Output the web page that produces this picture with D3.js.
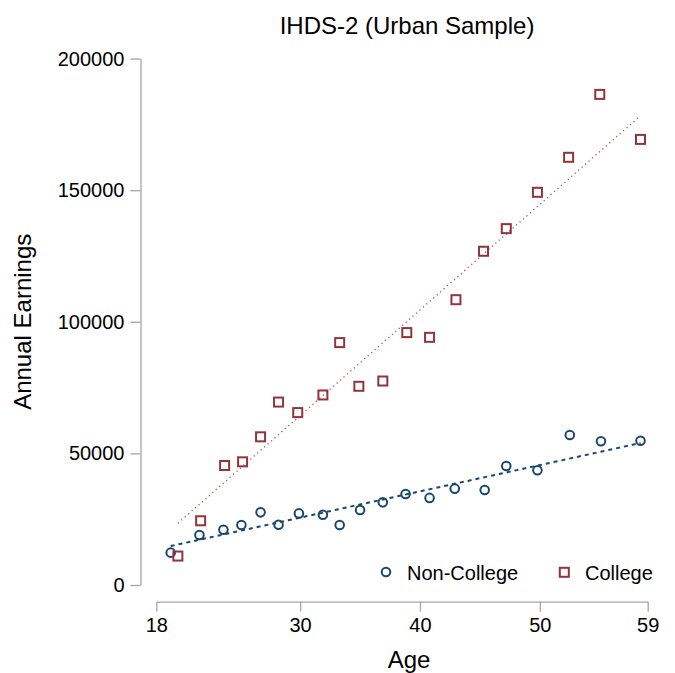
<!DOCTYPE html>
<html>
<head>
<meta charset="utf-8">
<script src="https://cdn.jsdelivr.net/npm/d3@7"></script>
<style>
  html, body { margin: 0; padding: 0; background: #fff; }
  svg { display: block; font-family: "Liberation Sans", Arial, Helvetica, sans-serif; }
</style>
</head>
<body>
<svg id="chart" width="675" height="673"></svg>
<script>
// Binned means of annual earnings by age, IHDS-2 urban sample
const nonCollegeAge = [19.2, 21.6, 23.6, 25.1, 26.7, 28.2, 29.9, 31.9, 33.3, 35.0,
                       36.9, 38.8, 40.8, 42.9, 45.4, 47.2, 49.8, 52.5, 55.1, 58.4];
const nonCollegeEarn = [12300, 19000, 21000, 22800, 27600, 22900, 27200, 26700, 22800, 28500,
                        31400, 34600, 33100, 36600, 36100, 45200, 43600, 57000, 54600, 54800];

const collegeAge = [19.8, 21.7, 23.7, 25.2, 26.7, 28.2, 29.8, 31.9, 33.3, 34.9,
                    36.9, 38.9, 40.8, 43.0, 45.3, 47.2, 49.8, 52.4, 55.0, 58.4];
const collegeEarn = [11000, 24400, 45400, 46800, 56300, 69500, 65500, 72200, 92100, 75500,
                     77500, 95900, 94100, 108400, 126800, 135400, 149200, 162500, 186400, 169300];

// Linear fit endpoints for each group
const nonCollegeFitAge = [19.2, 58.4];
const nonCollegeFitEarn = [14800, 53950];
const collegeFitAge = [19.8, 58.3];
const collegeFitEarn = [23450, 177900];

const xTicks = [18, 30, 40, 50, 59];
const yTicks = [0, 50000, 100000, 150000, 200000];
const legendLabels = ["Non-College", "College"];

const navy = "#1a476f";
const maroon = "#90353b";
const axisGray = "#a6a6a6";

const svg = d3.select("#chart");
svg.append("rect").attr("width", 675).attr("height", 673).attr("fill", "#fff");

const x = d3.scaleLinear().domain([18, 59]).range([156.3, 647.7]);
const y = d3.scaleLinear().domain([0, 200000]).range([585, 58.6]);

// Title
svg.append("text")
  .attr("x", 407).attr("y", 25).attr("dy", "0.36em")
  .attr("text-anchor", "middle")
  .attr("font-size", 24).attr("fill", "#000")
  .text("IHDS-2 (Urban Sample)");

// Y axis
const yAxis = svg.append("g")
  .attr("transform", "translate(140.5,0)")
  .call(d3.axisLeft(y).tickValues(yTicks).tickFormat(d3.format("d"))
        .tickSize(10).tickSizeOuter(0).tickPadding(6));
yAxis.selectAll("path, line").attr("stroke", axisGray).attr("stroke-width", 1.3);
yAxis.selectAll("text").attr("font-size", 20).attr("fill", "#000")
  .attr("font-family", "Liberation Sans, Arial, sans-serif");

// X axis
const xAxis = svg.append("g")
  .attr("transform", "translate(0,601.7)")
  .call(d3.axisBottom(x).tickValues(xTicks).tickFormat(d3.format("d"))
        .tickSize(10).tickSizeOuter(0).tickPadding(6));
xAxis.selectAll("path, line").attr("stroke", axisGray).attr("stroke-width", 1.3);
xAxis.selectAll("text").attr("font-size", 20).attr("fill", "#000")
  .attr("font-family", "Liberation Sans, Arial, sans-serif");

// Axis titles
svg.append("text")
  .attr("x", (x.range()[0] + x.range()[1]) / 2 + 7).attr("y", 668)
  .attr("text-anchor", "middle").attr("font-size", 24).attr("fill", "#000")
  .text("Age");

svg.append("text")
  .attr("transform", `translate(31,${(y.range()[0] + y.range()[1]) / 2}) rotate(-90)`)
  .attr("text-anchor", "middle").attr("font-size", 24).attr("fill", "#000")
  .text("Annual Earnings");

// Fit lines
const line = d3.line().x(d => x(d[0])).y(d => y(d[1]));

svg.append("path")
  .datum(d3.zip(collegeFitAge, collegeFitEarn))
  .attr("d", line)
  .attr("fill", "none").attr("stroke", maroon).attr("stroke-width", 1.3)
  .attr("stroke-dasharray", "1.2 3.4").attr("stroke-opacity", 0.85);

svg.append("path")
  .datum(d3.zip(nonCollegeFitAge, nonCollegeFitEarn))
  .attr("d", line)
  .attr("fill", "none").attr("stroke", navy).attr("stroke-width", 2)
  .attr("stroke-dasharray", "4 4");

// Non-college markers (hollow circles)
svg.append("g").selectAll("circle")
  .data(d3.zip(nonCollegeAge, nonCollegeEarn))
  .join("circle")
  .attr("cx", d => x(d[0])).attr("cy", d => y(d[1])).attr("r", 4.3)
  .attr("fill", "none").attr("stroke", navy).attr("stroke-width", 2);

// College markers (hollow squares)
const sq = 9;
svg.append("g").selectAll("rect")
  .data(d3.zip(collegeAge, collegeEarn))
  .join("rect")
  .attr("x", d => x(d[0]) - sq / 2).attr("y", d => y(d[1]) - sq / 2)
  .attr("width", sq).attr("height", sq)
  .attr("fill", "none").attr("stroke", maroon).attr("stroke-width", 2);

// Legend
const legend = svg.append("g").attr("font-size", 20).attr("fill", "#000");
legend.append("circle").attr("cx", 386).attr("cy", 572).attr("r", 4.3)
  .attr("fill", "none").attr("stroke", navy).attr("stroke-width", 2);
legend.append("text").attr("x", 407).attr("y", 573).attr("dy", "0.36em")
  .text(legendLabels[0]);
legend.append("rect").attr("x", 564.3 - sq / 2).attr("y", 572.3 - sq / 2)
  .attr("width", sq).attr("height", sq)
  .attr("fill", "none").attr("stroke", maroon).attr("stroke-width", 2);
legend.append("text").attr("x", 585).attr("y", 573).attr("dy", "0.36em")
  .text(legendLabels[1]);
</script>
</body>
</html>
